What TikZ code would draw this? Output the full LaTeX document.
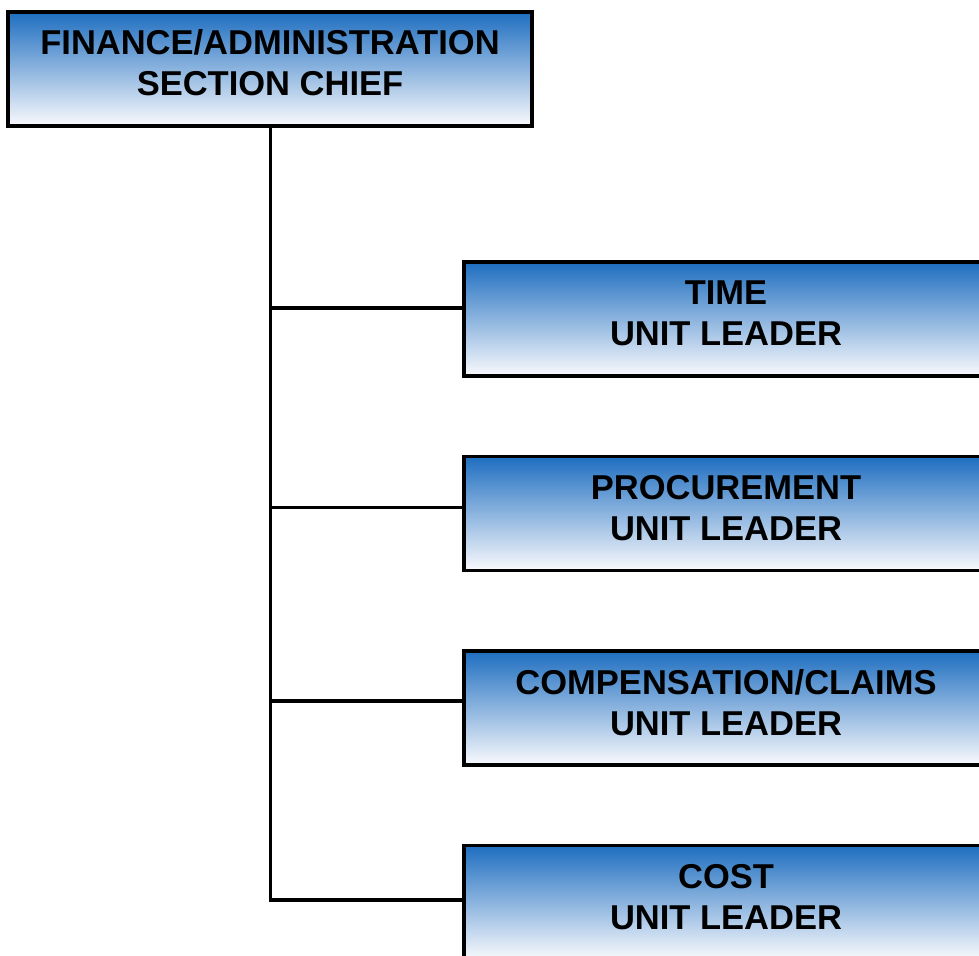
\documentclass[tikz,border=0pt]{standalone}
\usepackage{fontspec}
\setmainfont{Liberation Sans}
\definecolor{boxtop}{RGB}{30,110,192}
\definecolor{boxmid}{RGB}{185,196,228}
\definecolor{boxbot}{RGB}{250,250,253}
\begin{document}
\begin{tikzpicture}[x=1pt,y=-1pt,
  box/.style={draw=black, line width=3.5pt, minimum width=524pt, minimum height=114pt,
    inner sep=0pt, top color=boxtop, middle color=boxmid, bottom color=boxbot,
    align=center, text depth=12pt, font=\fontsize{34.5}{41}\selectfont\bfseries},
  link/.style={draw=black, line width=3.5pt}]
\useasboundingbox (0,0) rectangle (979,955);
\clip (0,0) rectangle (979,955);
% coordinates of branches
\coordinate (b1) at (270.5,308);
\coordinate (b2) at (270.5,507.5);
\coordinate (b3) at (270.5,701);
\coordinate (b4) at (270.5,900);
\path (270,69) node[box] (chief) {FINANCE/ADMINISTRATION\\SECTION CHIEF};
\path (726,319) node[box] (time) {TIME\\UNIT LEADER};
\path (726,513.5) node[box] (proc) {PROCUREMENT\\UNIT LEADER};
\path (726,708) node[box] (comp) {COMPENSATION/CLAIMS\\UNIT LEADER};
\path (726,902.5) node[box] (cost) {COST\\UNIT LEADER};
\draw[link] (chief.south -| b4) -- (b4) -- (b4 -| cost.west);
\draw[link] (b1) -- (b1 -| time.west);
\draw[link] (b2) -- (b2 -| proc.west);
\draw[link] (b3) -- (b3 -| comp.west);
\end{tikzpicture}
\end{document}
